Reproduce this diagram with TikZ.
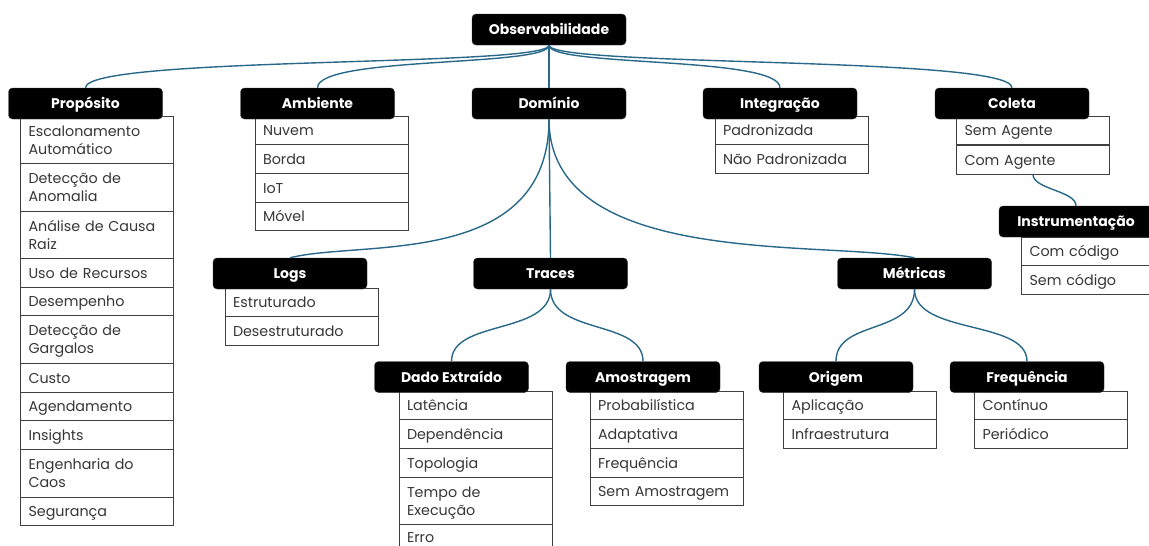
\documentclass[tikz,border=0pt]{standalone}
\usepackage{fontspec}
\setmainfont{Poppins}
\usetikzlibrary{positioning}
\definecolor{linkblue}{RGB}{40,104,136}
\definecolor{itemtext}{RGB}{55,55,55}

\begin{document}
\begin{tikzpicture}[x=1pt, y=-1pt,
    head/.style={fill=black, draw=black!80, rounded corners=4pt, minimum width=154pt, minimum height=31pt, inner sep=0pt, text height=12pt, text depth=2pt, text=white, font=\fontsize{14}{16}\selectfont\bfseries},
    item/.style={draw=black!75, fill=white, line width=0.9pt, text width=137pt, minimum height=28.7pt, inner xsep=8pt, inner ysep=0pt, outer sep=0pt, align=left, text=itemtext, font=\fontsize{14.3}{18}\selectfont, execute at begin node=\rule{0pt}{14.5pt}, execute at end node=\rule[-3.5pt]{0pt}{0pt}},
    tall/.style={minimum height=47.5pt},
    link/.style={draw=linkblue, line width=1.4pt}
]
    \clip (0,0) rectangle (1149,546);

    % lists
    \node[item, tall, anchor=north] (pr1) at (97,116) {Escalonamento\\Automático};
    \node[item, tall, below=0pt of pr1] (pr2) {Detecção de\\Anomalia};
    \node[item, tall, below=0pt of pr2] (pr3) {Análise de Causa\\Raiz};
    \node[item, below=0pt of pr3] (pr4) {Uso de Recursos};
    \node[item, below=0pt of pr4] (pr5) {Desempenho};
    \node[item, tall, below=0pt of pr5] (pr6) {Detecção de\\Gargalos};
    \node[item, below=0pt of pr6] (pr7) {Custo};
    \node[item, below=0pt of pr7] (pr8) {Agendamento};
    \node[item, below=0pt of pr8] (pr9) {Insights};
    \node[item, tall, below=0pt of pr9] (pr10) {Engenharia do\\Caos};
    \node[item, below=0pt of pr10] (pr11) {Segurança};

    \foreach \t [count=\i] in {Nuvem, Borda, IoT, Móvel}
        \node[item] (am\i) at (331.5,{130.35+(\i-1)*28.7}) {\t};
    \foreach \t [count=\i] in {Padronizada, Não Padronizada}
        \node[item] (ig\i) at (791.5,{130.35+(\i-1)*28.7}) {\t};
    \foreach \t [count=\i] in {Sem Agente, Com Agente}
        \node[item] (co\i) at (1033,{130.35+(\i-1)*29.7}) {\t};
    \foreach \t [count=\i] in {Com código, Sem código}
        \node[item] (is\i) at (1098,{251.35+(\i-1)*28.7}) {\t};
    \foreach \t [count=\i] in {Estruturado, Desestruturado}
        \node[item] (lg\i) at (301.5,{302.35+(\i-1)*28.7}) {\t};

    \node[item, anchor=north] (de1) at (475.5,391) {Latência};
    \node[item, below=0pt of de1] (de2) {Dependência};
    \node[item, below=0pt of de2] (de3) {Topologia};
    \node[item, tall, below=0pt of de3] (de4) {Tempo de\\Execução};
    \node[item, below=0pt of de4, minimum height=24pt] (de5) {Erro};

    \foreach \t [count=\i] in {Probabilística, Adaptativa, Frequência, Sem Amostragem}
        \node[item] (ao\i) at (666.5,{405.35+(\i-1)*28.7}) {\t};
    \foreach \t [count=\i] in {Aplicação, Infraestrutura}
        \node[item] (or\i) at (860,{405.35+(\i-1)*28.7}) {\t};
    \foreach \t [count=\i] in {Contínuo, Periódico}
        \node[item] (fq\i) at (1051,{405.35+(\i-1)*28.7}) {\t};

    % headers
    \node[head] (obs) at (549,29.5) {Observabilidade};
    \node[head] (prop) at (85.5,103.5) {Propósito};
    \node[head] (amb) at (317.5,103.5) {Ambiente};
    \node[head] (dom) at (549,103.5) {Domínio};
    \node[head] (intg) at (780,103.5) {Integração};
    \node[head] (col) at (1012,103.5) {Coleta};
    \node[head] (inst) at (1076,221.5) {Instrumentação};
    \node[head] (logs) at (290,273.5) {Logs};
    \node[head] (trc) at (550.5,273.5) {Traces};
    \node[head] (met) at (914.5,273.5) {Métricas};
    \node[head] (dado) at (451.5,377) {Dado Extraído};
    \node[head] (amo) at (643,377) {Amostragem};
    \node[head] (ori) at (836,377) {Origem};
    \node[head] (frq) at (1027,377) {Frequência};

    % links
    \foreach \c in {prop, amb, intg, col}
        \draw[link] (obs.south) .. controls +(0,22) and +(0,-32) .. (\c.north);
    \draw[link] (obs.south) -- (dom.north);
    \draw[link] (dom.south) .. controls +(0,150) and +(70,-18) .. (logs.north);
    \draw[link] (dom.south) -- (trc.north);
    \draw[link] (dom.south) .. controls +(0,150) and +(-90,-18) .. (met.north);
    \draw[link] (trc.south) .. controls +(0,46) and +(0,-42) .. (dado.north);
    \draw[link] (trc.south) .. controls +(0,46) and +(0,-42) .. (amo.north);
    \draw[link] (met.south) .. controls +(0,46) and +(0,-42) .. (ori.north);
    \draw[link] (met.south) .. controls +(0,46) and +(0,-42) .. (frq.north);
    \draw[link] (co2.south) .. controls +(0,15) and +(0,-15) .. (inst.north);
\end{tikzpicture}
\end{document}
